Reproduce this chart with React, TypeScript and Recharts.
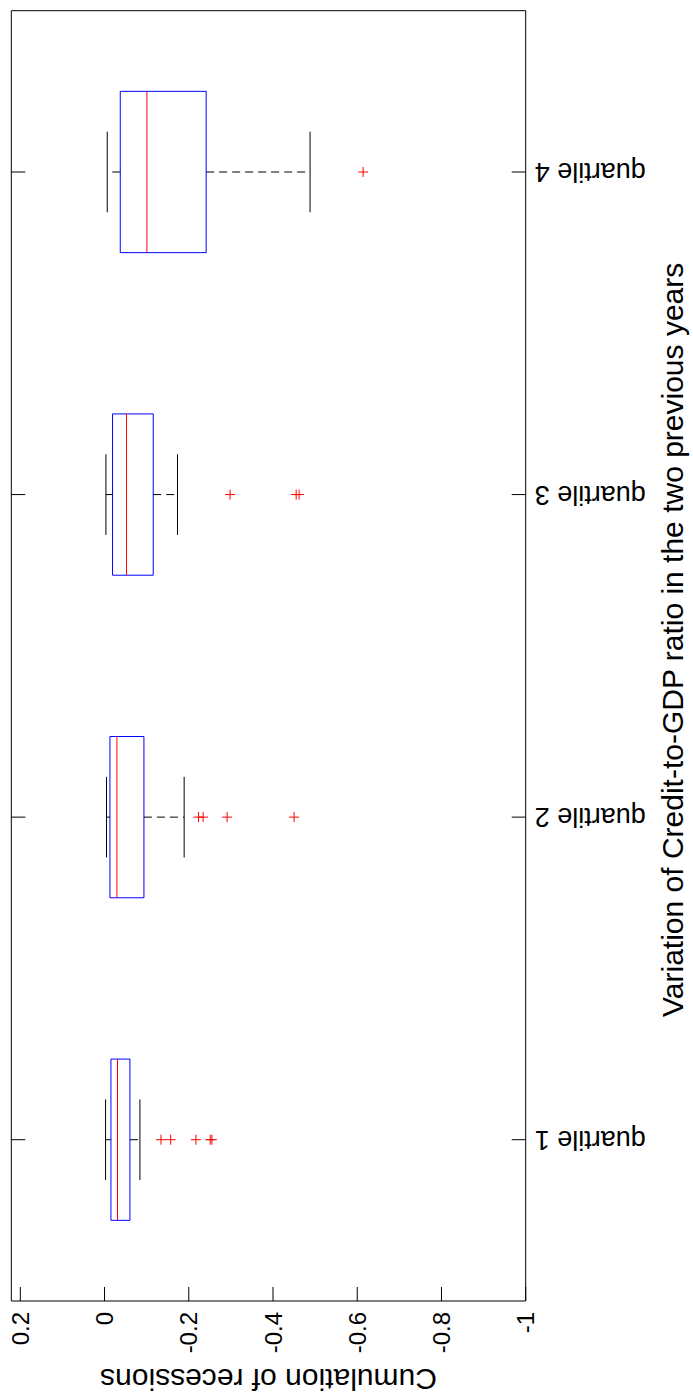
import React from 'react';
import { ScatterChart, Scatter, XAxis, YAxis, ReferenceArea, ReferenceLine } from 'recharts';

// boxplot statistics per group
const categories = ['quartile 1', 'quartile 2', 'quartile 3', 'quartile 4'];
const upperWhisker = [-0.0024, -0.0047, -0.0033, -0.0064];
const upperQuartile = [-0.0152, -0.0128, -0.019, -0.0373];
const medians = [-0.0308, -0.0294, -0.0522, -0.1006];
const lowerQuartile = [-0.0603, -0.0935, -0.1156, -0.2413];
const lowerWhisker = [-0.084, -0.189, -0.1732, -0.488];
const outliers = [
  [-0.134, -0.157, -0.217, -0.251, -0.255],
  [-0.223, -0.234, -0.291, -0.45],
  [-0.298, -0.455, -0.462],
  [-0.614],
];
const valueTicks = [0.2, 0, -0.2, -0.4, -0.6, -0.8, -1];
const valueTickLabels = ['0.2', '0', '-0.2', '-0.4', '-0.6', '-0.8', '-1'];
const categoryTicks = [1, 2, 3, 4];

const FONT = '"Liberation Sans", Arial, Helvetica, sans-serif';
const BOX_HALF = 0.25;
const CAP_HALF = 0.125;
const TICK_LEN = 14;

const outlierPoints = outliers.flatMap((row, i) => row.map((v) => ({ v, q: i + 1 })));

const BottomTick = (props: any) => {
  const { x, y, payload } = props;
  const label = valueTickLabels[valueTicks.indexOf(payload.value)];
  const ty = y + 11;
  return (
    <g>
      <line x1={x} y1={y} x2={x} y2={y - TICK_LEN} stroke="#000" />
      <text
        x={x}
        y={ty}
        transform={`rotate(-90 ${x} ${ty})`}
        textAnchor="end"
        dominantBaseline="central"
        fontSize={24}
        fontFamily={FONT}
        fill="#000"
      >
        {label}
      </text>
    </g>
  );
};

const TopTick = (props: any) => {
  const { x, y } = props;
  return <line x1={x} y1={y} x2={x} y2={y + TICK_LEN} stroke="#000" />;
};

const LeftTick = (props: any) => {
  const { x, y } = props;
  return <line x1={x} y1={y} x2={x + TICK_LEN} y2={y} stroke="#000" />;
};

const RightTick = (props: any) => {
  const { x, y, payload } = props;
  const label = categories[categoryTicks.indexOf(payload.value)];
  const tx = x + 9;
  return (
    <g>
      <line x1={x} y1={y} x2={x - TICK_LEN} y2={y} stroke="#000" />
      <text
        x={tx}
        y={y}
        transform={`rotate(180 ${tx} ${y})`}
        textAnchor="end"
        dominantBaseline="central"
        fontSize={27}
        fontFamily={FONT}
        fill="#000"
      >
        {label}
      </text>
    </g>
  );
};

const Plus = (props: any) => {
  const { cx, cy } = props;
  return (
    <path d={`M${cx - 5},${cy}H${cx + 5}M${cx},${cy - 5}V${cy + 5}`} stroke="#ff0000" strokeWidth={1} fill="none" />
  );
};

const bottomLabel = (p: any) => {
  const vb = p.viewBox;
  const cx = vb.x + vb.width / 2;
  const cy = vb.y + 78;
  return (
    <text
      x={cx}
      y={cy}
      transform={`rotate(180 ${cx} ${cy})`}
      textAnchor="middle"
      dominantBaseline="central"
      fontSize={30}
      fontFamily={FONT}
      fill="#000"
    >
      Cumulation of recessions
    </text>
  );
};

const rightLabel = (p: any) => {
  const vb = p.viewBox;
  const cx = vb.x + 147;
  const cy = vb.y + vb.height / 2 - 16;
  return (
    <text
      x={cx}
      y={cy}
      transform={`rotate(-90 ${cx} ${cy})`}
      textAnchor="middle"
      dominantBaseline="central"
      fontSize={30}
      fontFamily={FONT}
      fill="#000"
    >
      Variation of Credit-to-GDP ratio in the two previous years
    </text>
  );
};

export default function App() {
  const domainX: [number, number] = [-1, 0.2214];
  const domainY: [number, number] = [0.5, 4.5];
  return (
    <div style={{ position: 'absolute', left: 0, top: 0, background: '#fff' }}>
      <ScatterChart width={693} height={1399} margin={{ top: 0, right: 0, bottom: 0, left: 0 }}>
        <XAxis
          type="number"
          dataKey="v"
          domain={domainX}
          allowDataOverflow
          reversed
          ticks={valueTicks}
          interval={0}
          height={98}
          tickSize={0}
          tickMargin={0}
          tick={<BottomTick />}
          axisLine={{ stroke: '#000' }}
          label={bottomLabel}
        />
        <XAxis
          xAxisId="top"
          orientation="top"
          type="number"
          domain={domainX}
          allowDataOverflow
          reversed
          ticks={valueTicks}
          interval={0}
          height={10.7}
          tickSize={0}
          tickMargin={0}
          tick={<TopTick />}
          axisLine={{ stroke: '#000' }}
        />
        <YAxis
          type="number"
          dataKey="q"
          domain={domainY}
          allowDataOverflow
          ticks={categoryTicks}
          interval={0}
          width={11.3}
          tickSize={0}
          tickMargin={0}
          tick={<LeftTick />}
          axisLine={{ stroke: '#000' }}
        />
        <YAxis
          yAxisId="right"
          orientation="right"
          type="number"
          domain={domainY}
          allowDataOverflow
          ticks={categoryTicks}
          interval={0}
          width={167.3}
          tickSize={0}
          tickMargin={0}
          tick={<RightTick />}
          axisLine={{ stroke: '#000' }}
          label={rightLabel}
        />

        {categories.map((c, i) => {
          const pos = i + 1;
          return (
            <React.Fragment key={c}>
              <ReferenceLine
                segment={[{ x: upperQuartile[i], y: pos }, { x: upperWhisker[i], y: pos }]}
                stroke="#000"
                strokeDasharray="8 5"
              />
              <ReferenceLine
                segment={[{ x: lowerQuartile[i], y: pos }, { x: lowerWhisker[i], y: pos }]}
                stroke="#000"
                strokeDasharray="8 5"
              />
              <ReferenceLine
                segment={[{ x: upperWhisker[i], y: pos - CAP_HALF }, { x: upperWhisker[i], y: pos + CAP_HALF }]}
                stroke="#000"
              />
              <ReferenceLine
                segment={[{ x: lowerWhisker[i], y: pos - CAP_HALF }, { x: lowerWhisker[i], y: pos + CAP_HALF }]}
                stroke="#000"
              />
              <ReferenceArea
                x1={upperQuartile[i]}
                x2={lowerQuartile[i]}
                y1={pos - BOX_HALF}
                y2={pos + BOX_HALF}
                fill="#fff"
                fillOpacity={0}
                stroke="#0000ff"
                strokeWidth={1}
              />
              <ReferenceLine
                segment={[{ x: medians[i], y: pos - BOX_HALF }, { x: medians[i], y: pos + BOX_HALF }]}
                stroke="#ff0000"
              />
            </React.Fragment>
          );
        })}

        <Scatter data={outlierPoints} shape={<Plus />} isAnimationActive={false} />
      </ScatterChart>
    </div>
  );
}
